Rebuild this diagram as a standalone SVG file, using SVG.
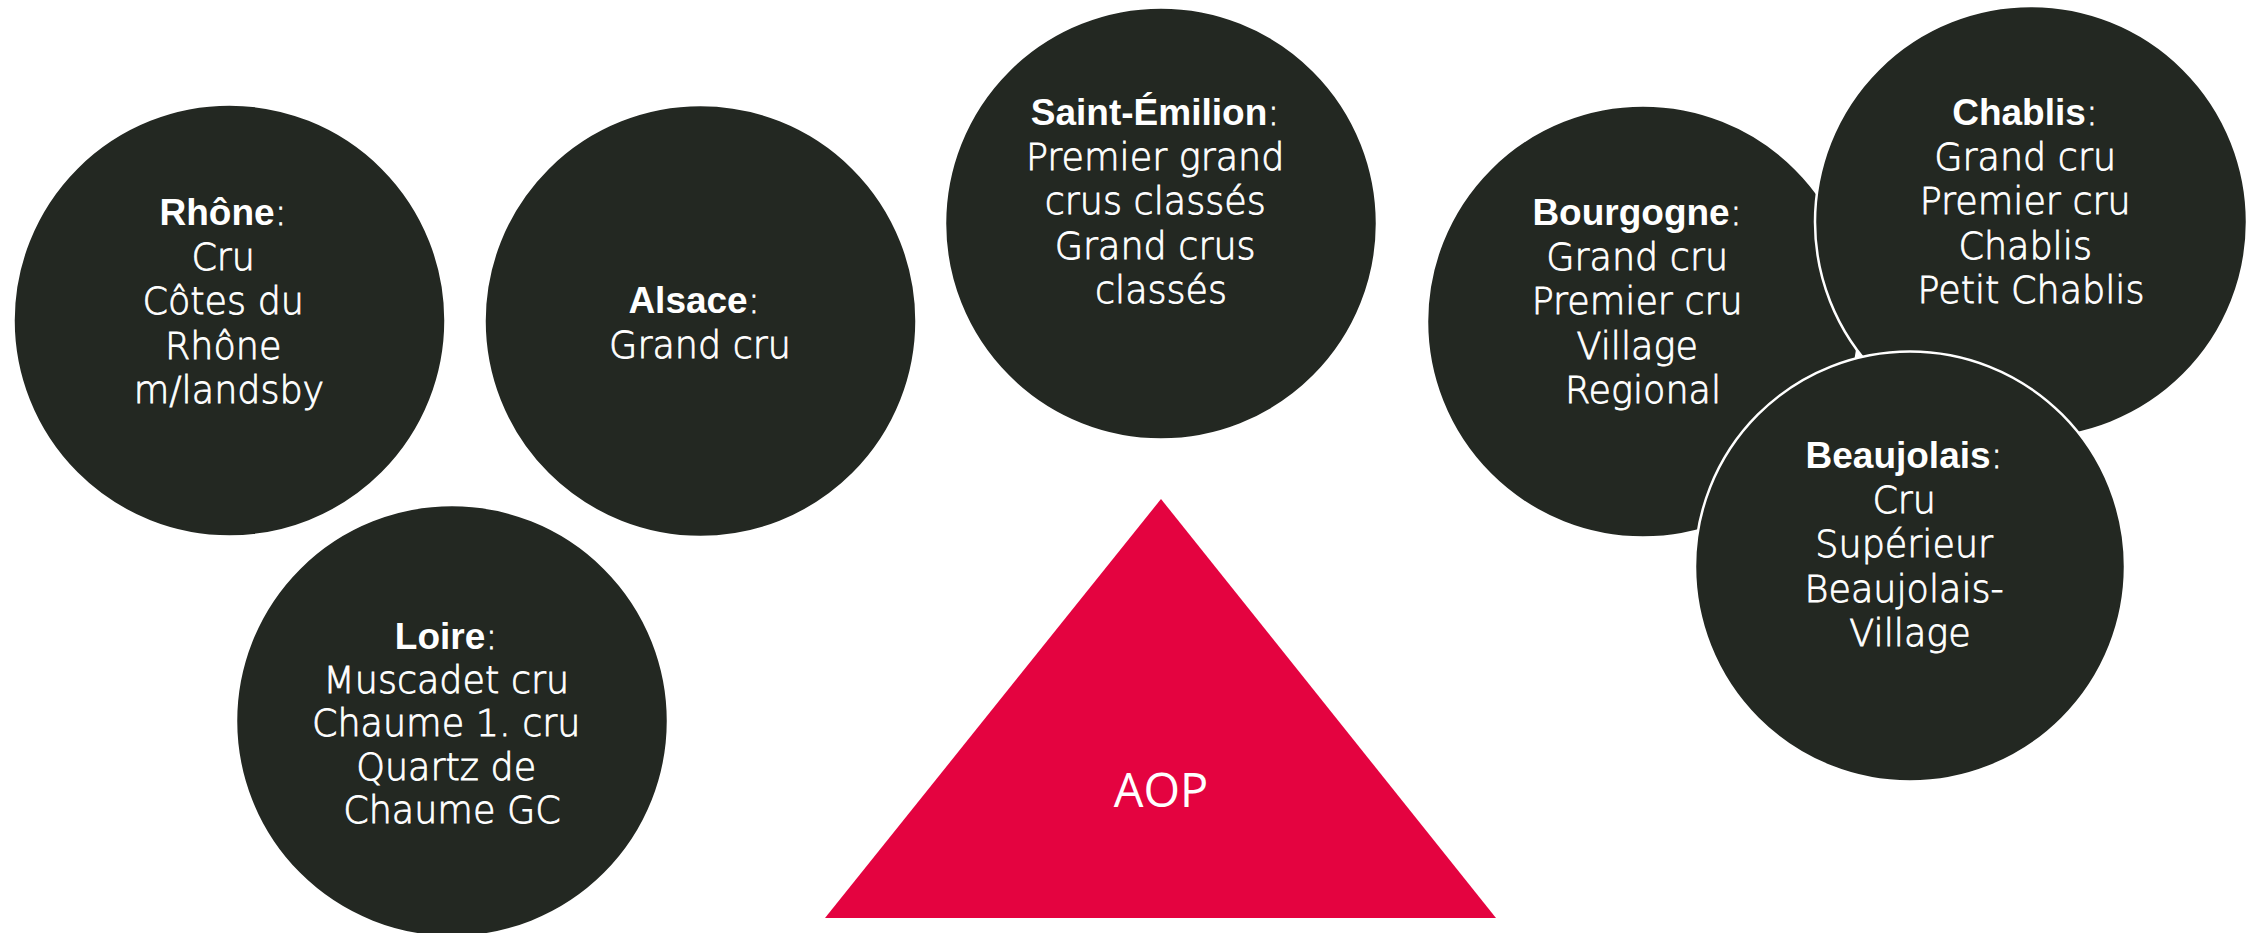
<svg xmlns="http://www.w3.org/2000/svg" width="2260" height="933" viewBox="0 0 2260 933">
<style>
  .c { fill: #232822; stroke: #ffffff; stroke-width: 2.5; }
  .t { font-family: "DejaVu Sans", "Liberation Sans", sans-serif; font-weight: 300; font-size: 36.5px; fill: #ffffff; stroke: #ffffff; stroke-width: 0.8; text-anchor: middle; }
  .b { font-family: "Liberation Sans", "DejaVu Sans", sans-serif; font-weight: bold; font-size: 37px; stroke: none; }
  .aop { font-family: "Open Sans", "Noto Sans", sans-serif; font-size: 47px; fill: #ffffff; text-anchor: middle; }
</style>
<rect width="2260" height="933" fill="#ffffff"/>
<g id="connectors"/>
<g id="rhone">
  <circle class="c" cx="229.5" cy="320.5" r="216"/>
  <text class="t">
    <tspan x="229" y="225"><tspan class="b">Rhône</tspan>:</tspan>
    <tspan x="229" y="269.5">Cru</tspan>
    <tspan x="229" y="314">Côtes du</tspan>
    <tspan x="229" y="358.5">Rhône</tspan>
    <tspan x="229" y="403">m/landsby</tspan>
  </text>
</g>
<g id="alsace">
  <circle class="c" cx="700.5" cy="321" r="216"/>
  <text class="t">
    <tspan x="700" y="313"><tspan class="b">Alsace</tspan>:</tspan>
    <tspan x="700" y="358">Grand cru</tspan>
  </text>
</g>
<g id="saint-emilion">
  <circle class="c" cx="1161" cy="223.5" r="216"/>
  <text class="t">
    <tspan x="1161" y="125"><tspan class="b">Saint-Émilion</tspan>:</tspan>
    <tspan x="1161" y="169.5">Premier grand</tspan>
    <tspan x="1161" y="214">crus classés</tspan>
    <tspan x="1161" y="258.5">Grand crus</tspan>
    <tspan x="1161" y="303">classés</tspan>
  </text>
</g>
<g id="bourgogne">
  <circle class="c" cx="1643" cy="321.5" r="216"/>
  <text class="t">
    <tspan x="1643" y="225"><tspan class="b">Bourgogne</tspan>:</tspan>
    <tspan x="1643" y="269.5">Grand cru</tspan>
    <tspan x="1643" y="314">Premier cru</tspan>
    <tspan x="1643" y="358.5">Village</tspan>
    <tspan x="1643" y="403">Regional</tspan>
  </text>
</g>
<g id="chablis">
  <circle class="c" cx="2031" cy="222" r="216"/>
  <text class="t">
    <tspan x="2031" y="125"><tspan class="b">Chablis</tspan>:</tspan>
    <tspan x="2031" y="169.5">Grand cru</tspan>
    <tspan x="2031" y="214">Premier cru</tspan>
    <tspan x="2031" y="258.5">Chablis</tspan>
    <tspan x="2031" y="303">Petit Chablis</tspan>
  </text>
</g>
<g id="beaujolais">
  <circle class="c" cx="1910" cy="566.5" r="215"/>
  <text class="t">
    <tspan x="1910" y="468"><tspan class="b">Beaujolais</tspan>:</tspan>
    <tspan x="1910" y="512.5">Cru</tspan>
    <tspan x="1910" y="557">Supérieur</tspan>
    <tspan x="1910" y="601.5">Beaujolais-</tspan>
    <tspan x="1910" y="646">Village</tspan>
  </text>
</g>
<g id="loire">
  <circle class="c" cx="452" cy="721" r="216"/>
  <text class="t">
    <tspan x="452" y="649"><tspan class="b">Loire</tspan>:</tspan>
    <tspan x="452" y="692.5">Muscadet cru</tspan>
    <tspan x="452" y="736">Chaume 1. cru</tspan>
    <tspan x="452" y="779.5">Quartz de</tspan>
    <tspan x="452" y="823">Chaume GC</tspan>
  </text>
</g>
<g id="aop">
  <polygon points="1161,499 1496,918 825,918" fill="#E40340"/>
  <text class="aop" x="1161" y="807">AOP</text>
</g>
</svg>
